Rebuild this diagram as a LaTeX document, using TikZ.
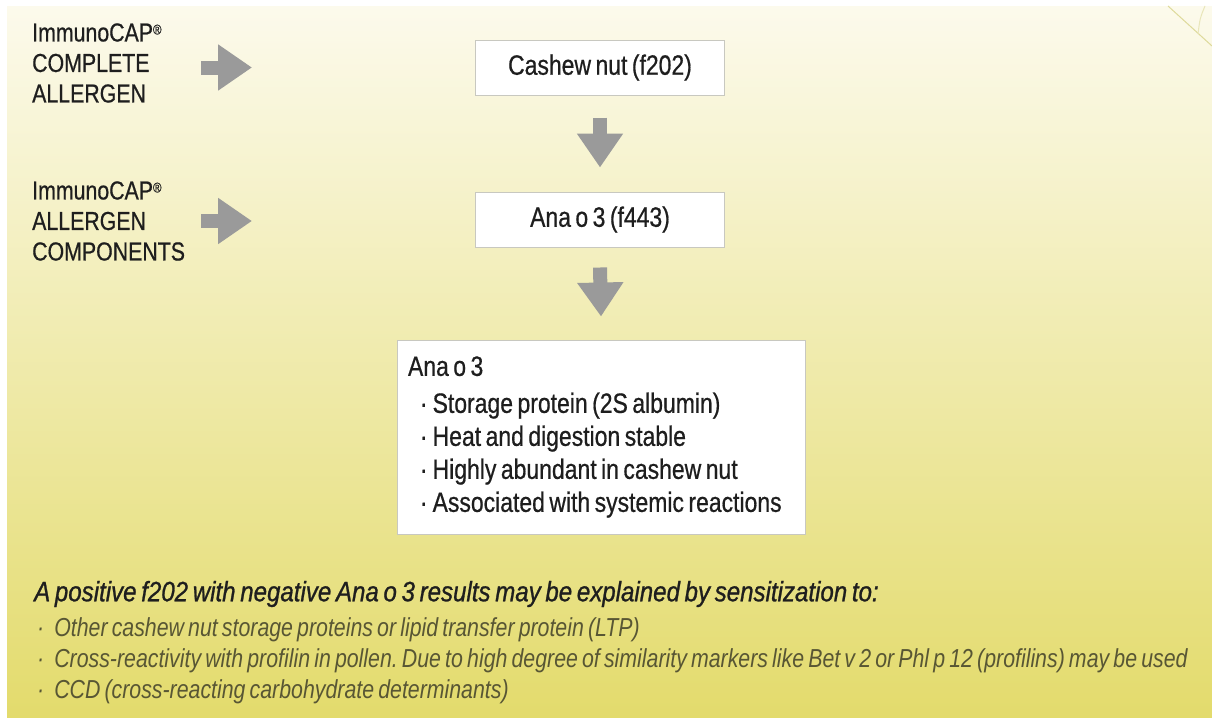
\documentclass[tikz,border=0pt]{standalone}
\usepackage{fontspec}
\setmainfont{Liberation Sans}[FakeStretch=0.82,WordSpace=0.7,FakeBold=0.6]
\newfontfamily\headfont{Liberation Sans}[FakeStretch=0.86,WordSpace=0.7,FakeBold=0.9]
\newfontfamily\notefont{Liberation Sans}[FakeStretch=0.82,WordSpace=0.7]
\usetikzlibrary{arrows.meta,positioning}
\definecolor{cream}{RGB}{252,250,236}
\definecolor{midyellow}{RGB}{241,234,165}
\definecolor{lowyellow}{RGB}{227,219,108}
\definecolor{arrowgray}{RGB}{154,154,154}
\definecolor{boxline}{RGB}{200,200,192}
\definecolor{inktext}{RGB}{30,30,30}
\definecolor{notetext}{RGB}{88,86,52}
\newcommand{\regmark}{\raisebox{7pt}{\fontsize{14}{14}\selectfont\textregistered}}
\tikzset{
  testbox/.style={draw=boxline,line width=1pt,fill=white,minimum width=249pt,
    minimum height=55pt,inner sep=0pt,text=inktext,font=\fontsize{28}{33}\selectfont},
  sidelabel/.style={anchor=west,align=left,inner sep=0pt,text=inktext,
    font=\fontsize{26}{30.5}\selectfont},
  fatarrow/.style={arrowgray,line width=14pt,-{Triangle[width=44pt,length=34pt]}},
  noteline/.style={anchor=west,inner sep=0pt}
}
\frenchspacing
\begin{document}
\begin{tikzpicture}[x=1pt,y=-1pt]
\useasboundingbox[fill=white] (0,0) rectangle (1212,726);
\shade[top color=cream,middle color=midyellow,bottom color=lowyellow] (7,6) rectangle (1212,717);
\draw[olive!30,line width=1pt] (1168,6) -- (1212,46);
\draw[olive!20,line width=1pt] (1205,6) .. controls (1200,18) .. (1198,34);

% test boxes
\node[testbox] (cashew) at (600,67.5) {Cashew nut (f202)};
\node[testbox] (anao) at (600,219.5) {Ana o 3 (f443)};
\node[draw=boxline,line width=1pt,fill=white,minimum width=408pt,minimum height=194pt,
  text width=386pt,inner xsep=11pt,align=left,text=inktext,
  font=\fontsize{28}{33}\selectfont] (facts) at (601,437)
  {\spaceskip=\fontdimen2\font\relax
   Ana o 3\\[4pt]
   \hspace*{12pt}·\hspace{5pt}Storage protein (2S albumin)\\
   \hspace*{12pt}·\hspace{5pt}Heat and digestion stable\\
   \hspace*{12pt}·\hspace{5pt}Highly abundant in cashew nut\\
   \hspace*{12pt}·\hspace{5pt}Associated with systemic reactions};

% side labels
\node[sidelabel] (complete) at (32,63) {ImmunoCAP\regmark\\COMPLETE\\ALLERGEN};
\node[sidelabel] (components) at (32,221) {ImmunoCAP\regmark\\ALLERGEN\\COMPONENTS};
\coordinate (in1) at (201,67.5);
\coordinate (out1) at (252,67.5);
\coordinate (in2) at (201,221);
\coordinate (out2) at (252,221);
\draw[fatarrow] (in1) -- (out1);
\draw[fatarrow] (in2) -- (out2);
\draw[fatarrow] ([yshift=-22pt]cashew.south) -- ([yshift=24pt]anao.north);
\draw[fatarrow] ([yshift=-20pt]anao.south) -- ([yshift=23pt]facts.north);

% notes
\node[noteline,text=inktext,font=\headfont\fontsize{28}{33}\selectfont\itshape] (explain) at (34,594)
  {A positive f202 with negative Ana o 3 results may be explained by sensitization to:};
\foreach \n/\y/\t in {1/630/{Other cashew nut storage proteins or lipid transfer protein (LTP)},
  2/661/{Cross-reactivity with profilin in pollen. Due to high degree of similarity markers like Bet v 2 or Phl p 12 (profilins) may be used},
  3/692/{CCD (cross-reacting carbohydrate determinants)}}
  \node[noteline,text=notetext,font=\notefont\fontsize{26}{30}\selectfont\itshape] (note\n) at (37,\y) {·\hspace{10pt}\t};
\end{tikzpicture}
\end{document}
